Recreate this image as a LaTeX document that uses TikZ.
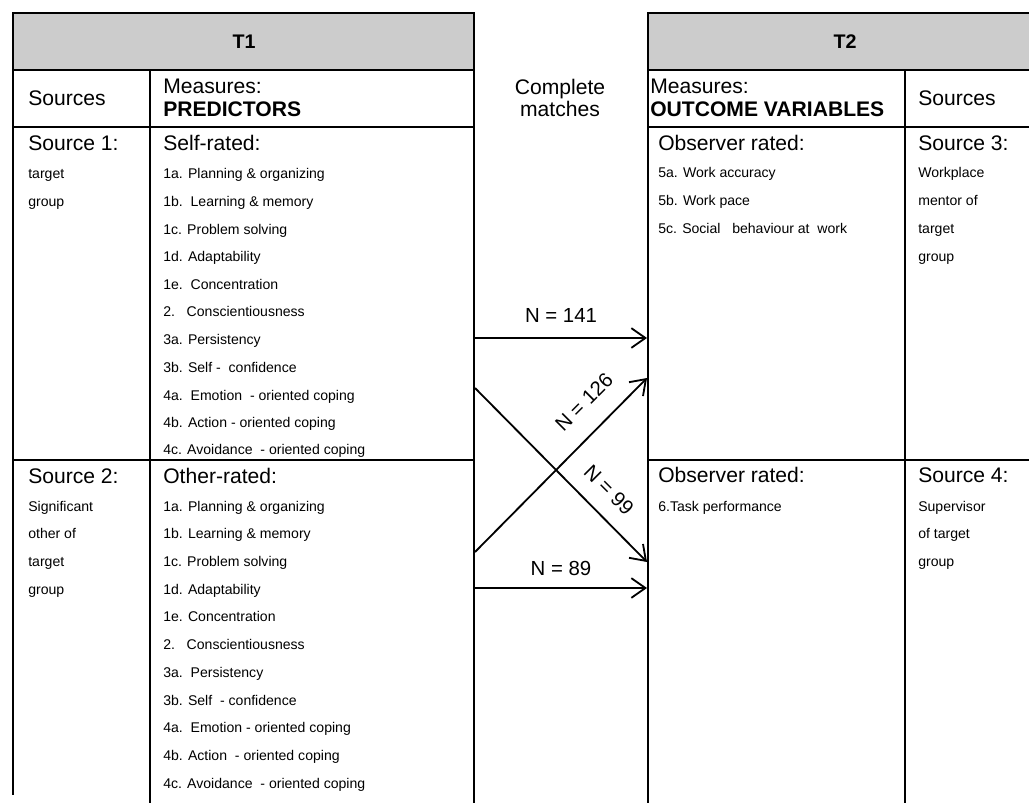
\documentclass[tikz,border=0pt]{standalone}
\usepackage{fontspec}
\setmainfont{Liberation Sans}
\usetikzlibrary{arrows.meta}
\tikzset{hd/.style={rectangle,draw,fill=black!20,line width=1.6pt}}
\tikzset{ln/.style={line width=1.3pt}}
\tikzset{arr/.style={line width=1.3pt,-{Straight Barb[length=10pt,width=14pt]}}}
\tikzset{sm/.style={anchor=west,inner sep=0pt,text height=7.2pt,text depth=0pt,font=\fontsize{10}{12}\selectfont}}
\tikzset{bg/.style={anchor=west,inner sep=0pt,text height=10.8pt,text depth=0pt,font=\fontsize{15}{16}\selectfont}}
\tikzset{hdr/.style={anchor=west,inner sep=0pt,font=\fontsize{15}{16}\selectfont}}
\tikzset{ttl/.style={inner sep=0pt,font=\fontsize{14}{16}\selectfont\bfseries}}
\tikzset{lbl/.style={inner sep=0pt,font=\fontsize{14.5}{16}\selectfont}}

\begin{document}
\begin{tikzpicture}[x=0.025cm,y=-0.025cm]
        \useasboundingbox (0,0) rectangle (1029,803);

        % T1 table
        \draw[hd] (13,13) rectangle (474,70);
        \node[ttl] (t1) at (244,42) {T1};
        \draw[ln] (13,13) -- (13,795);
        \draw[ln] (474,13) -- (474,803);
        \draw[ln] (150,70) -- (150,803);
        \draw[ln] (13,127) -- (474,127);
        \draw[ln] (13,460) -- (474,460);

        % T2 table
        \draw[hd] (648,13) rectangle (1040,70);
        \node[ttl] (t2) at (845,42) {T2};
        \draw[ln] (648,13) -- (648,803);
        \draw[ln] (905,70) -- (905,803);
        \draw[ln] (648,127) -- (1029,127);
        \draw[ln] (648,460) -- (1029,460);

        % header row
        \node[hdr] (src1h) at (28,98) {Sources};
        \node[hdr, align=left] (meas1) at (163,98) {Measures:\\\textbf{PREDICTORS}};
        \node[hdr, anchor=center, align=center] (cm) at (560,98) {Complete\\matches};
        \node[hdr, align=left] (meas2) at (650,98) {Measures:\\\textbf{OUTCOME VARIABLES}};
        \node[hdr] (src2h) at (918,98) {Sources};

        % source 1 / self-rated
        \node[bg] (s1) at (28,143) {Source 1:};
        \node[sm] (s1a) at (28,173) {target};
        \node[sm] (s1b) at (28,201) {group};
        \node[bg] (self) at (163,143) {Self-rated:};
        \node[sm] (p1a) at (163,173) {1a. Planning \& organizing};
        \node[sm] (p1b) at (163,201) {1b.\ \ Learning \& memory};
        \node[sm] (p1c) at (163,229) {1c. Problem solving};
        \node[sm] (p1d) at (163,256) {1d. Adaptability};
        \node[sm] (p1e) at (163,284) {1e.\ \ Concentration};
        \node[sm] (p2) at (163,311) {2.\ \ \ Conscientiousness};
        \node[sm] (p3a) at (163,339) {3a. Persistency};
        \node[sm] (p3b) at (163,367) {3b. Self -\ \ confidence};
        \node[sm] (p4a) at (163,395) {4a.\ \ Emotion\ \ - oriented coping};
        \node[sm] (p4b) at (163,422) {4b. Action - oriented coping};
        \node[sm] (p4c) at (163,449) {4c. Avoidance\ \ - oriented coping};

        % source 2 / other-rated
        \node[bg] (s2) at (28,476) {Source 2:};
        \node[sm] (s2a) at (28,506) {Significant};
        \node[sm] (s2b) at (28,533) {other of};
        \node[sm] (s2c) at (28,561) {target};
        \node[sm] (s2d) at (28,589) {group};
        \node[bg] (other) at (163,476) {Other-rated:};
        \node[sm] (q1a) at (163,506) {1a. Planning \& organizing};
        \node[sm] (q1b) at (163,533) {1b. Learning \& memory};
        \node[sm] (q1c) at (163,561) {1c. Problem solving};
        \node[sm] (q1d) at (163,589) {1d. Adaptability};
        \node[sm] (q1e) at (163,616) {1e. Concentration};
        \node[sm] (q2) at (163,644) {2.\ \ \ Conscientiousness};
        \node[sm] (q3a) at (163,672) {3a.\ \ Persistency};
        \node[sm] (q3b) at (163,700) {3b. Self\ \ - confidence};
        \node[sm] (q4a) at (163,727) {4a.\ \ Emotion - oriented coping};
        \node[sm] (q4b) at (163,755) {4b. Action\ \ - oriented coping};
        \node[sm] (q4c) at (163,783) {4c. Avoidance\ \ - oriented coping};

        % observer rated / source 3
        \node[bg] (obs1) at (658,143) {Observer rated:};
        \node[sm] (o5a) at (658,172) {5a. Work accuracy};
        \node[sm] (o5b) at (658,200) {5b. Work pace};
        \node[sm] (o5c) at (658,228) {5c. Social\ \ \ behaviour at\ \ work};
        \node[bg] (s3) at (918,143) {Source 3:};
        \node[sm] (s3a) at (918,172) {Workplace};
        \node[sm] (s3b) at (918,200) {mentor of};
        \node[sm] (s3c) at (918,228) {target};
        \node[sm] (s3d) at (918,256) {group};

        % observer rated / source 4
        \node[bg] (obs2) at (658,475) {Observer rated:};
        \node[sm] (o6) at (658,506) {6.Task performance};
        \node[bg] (s4) at (918,475) {Source 4:};
        \node[sm] (s4a) at (918,506) {Supervisor};
        \node[sm] (s4b) at (918,533) {of target};
        \node[sm] (s4c) at (918,561) {group};

        % matches
        \coordinate (l141) at (475,338);
        \coordinate (r141) at (647,338);
        \coordinate (l126) at (475,552);
        \coordinate (r126) at (647,378);
        \coordinate (l99) at (475,388);
        \coordinate (r99) at (647,562);
        \coordinate (l89) at (475,588);
        \coordinate (r89) at (647,588);
        \node[lbl] (n141) at (561,315) {N = 141};
        \node[lbl, rotate=45] (n126) at (584,402) {N = 126};
        \node[lbl, rotate=-45] (n99) at (609,490) {N = 99};
        \node[lbl] (n89) at (561,568) {N = 89};

        \draw [arr] (l141) -- (r141);
        \draw [arr] (l126) -- (r126);
        \draw [arr] (l99) -- (r99);
        \draw [arr] (l89) -- (r89);

    \end{tikzpicture}
\end{document}
